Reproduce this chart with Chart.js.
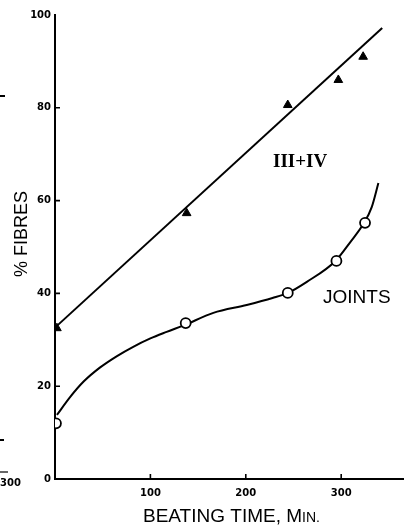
<!DOCTYPE html>
<html>
<head>
<meta charset="utf-8">
<script src="https://cdn.jsdelivr.net/npm/chart.js@4/dist/chart.umd.min.js"></script>
<style>
  html, body { margin: 0; padding: 0; background: #fff; }
  #wrap { width: 410px; height: 526px; position: relative; }
</style>
</head>
<body>
<div id="wrap"><canvas id="c" width="410" height="526"></canvas></div>
<script>
// Tick positions drawn as short inward marks
const xTicks = [100, 200, 300];
const yTicks = [20, 40, 60, 80];

// III + IV fibres: measured points and the fitted straight line
const fibresX = [2, 138, 244, 297, 323];
const fibresY = [32.5, 57.3, 80.6, 86, 91];
const fibresLineX = [2, 343];
const fibresLineY = [33, 97.2];

// Joints: measured points and the smooth fitted curve
const jointsX = [1, 137, 244, 295, 325];
const jointsY = [12, 33.6, 40.1, 47, 55.2];
const jointsCurveX = [2, 16, 30, 47, 65, 82, 100, 117, 135, 166, 201, 228, 244, 264, 294, 309, 324, 332, 339];
const jointsCurveY = [13.8, 17.7, 21.0, 24.0, 26.5, 28.5, 30.3, 31.7, 33.1, 35.8, 37.5, 39, 40.1, 42.5, 47, 50.9, 55.2, 58.6, 63.8];

const pts = (xs, ys) => xs.map((x, i) => ({ x: x, y: ys[i] }));

const tickFont = { family: 'DejaVu Sans', size: 10, weight: 'bold' };

// Inward tick marks, titles and curve labels
const decorations = {
  id: 'decorations',
  afterDraw(chart) {
    const ctx = chart.ctx;
    const xs = chart.scales.x, ys = chart.scales.y;
    const x0 = xs.getPixelForValue(0), y0 = ys.getPixelForValue(0);
    ctx.save();
    ctx.strokeStyle = '#000';
    ctx.fillStyle = '#000';
    ctx.lineWidth = 1.6;
    ctx.beginPath();
    yTicks.forEach(v => {
      const p = ys.getPixelForValue(v);
      ctx.moveTo(x0, p); ctx.lineTo(x0 + 5, p);
    });
    xTicks.forEach(v => {
      const p = xs.getPixelForValue(v);
      ctx.moveTo(p, y0); ctx.lineTo(p, y0 - 5);
    });
    ctx.stroke();

    // x axis title with small-capital "Min."
    ctx.textBaseline = 'alphabetic';
    ctx.textAlign = 'left';
    let tx = 143;
    const by = 522;
    ctx.font = '19px "Liberation Sans"';
    ctx.fillText('BEATING TIME, M', tx, by);
    tx += ctx.measureText('BEATING TIME, M').width;
    ctx.font = '14px "Liberation Sans"';
    ctx.fillText('IN.', tx, by);

    // y axis title
    ctx.save();
    ctx.translate(27, 234);
    ctx.rotate(-Math.PI / 2);
    ctx.textAlign = 'center';
    ctx.font = '18px "Liberation Sans"';
    ctx.fillText('% FIBRES', 0, 0);
    ctx.restore();

    // curve labels
    ctx.font = 'bold 19px "Liberation Serif"';
    ctx.fillText('III+IV', 273, 167);
    ctx.font = '19px "Liberation Sans"';
    ctx.fillText('JOINTS', 323, 303);

    // marks in the left margin
    ctx.font = 'bold 10px "DejaVu Sans"';
    ctx.fillText('300', 0, 486);
    ctx.lineWidth = 1.2;
    ctx.beginPath();
    ctx.moveTo(0, 472); ctx.lineTo(8, 472);
    ctx.stroke();
    ctx.fillRect(0, 95, 5, 2);
    ctx.fillRect(0, 439, 4, 2);
    ctx.restore();
  }
};

new Chart(document.getElementById('c'), {
  type: 'scatter',
  data: {
    datasets: [
      {
        data: pts(fibresLineX, fibresLineY),
        showLine: true, borderColor: '#000', borderWidth: 2,
        pointRadius: 0, order: 3
      },
      {
        data: pts(fibresX, fibresY),
        pointStyle: 'triangle', pointRadius: 5,
        backgroundColor: '#000', borderColor: '#000', borderWidth: 1, order: 0
      },
      {
        data: pts(jointsCurveX, jointsCurveY),
        showLine: true, borderColor: '#000', borderWidth: 2,
        pointRadius: 0, cubicInterpolationMode: 'monotone', order: 2
      },
      {
        data: pts(jointsX, jointsY),
        pointStyle: 'circle', pointRadius: 5,
        backgroundColor: '#fff', borderColor: '#000', borderWidth: 1.8, order: 1
      }
    ]
  },
  options: {
    responsive: false,
    animation: false,
    events: [],
    layout: { padding: { top: 15, right: 2, left: 0, bottom: 0 } },
    plugins: { legend: { display: false }, tooltip: { enabled: false } },
    scales: {
      x: {
        type: 'linear', min: 0, max: 365,
        afterFit(s) { s.height = 47; s.paddingRight = 0; s.paddingLeft = 0; },
        afterBuildTicks(s) { s.ticks = xTicks.map(v => ({ value: v })); },
        grid: { display: false, drawTicks: false, tickLength: 0 },
        border: { display: true, color: '#000', width: 2 },
        ticks: { color: '#000', font: tickFont, padding: 8, maxRotation: 0 }
      },
      y: {
        type: 'linear', min: 0, max: 100,
        afterFit(s) { s.width = 55; },
        grid: { display: false, drawTicks: false, tickLength: 0 },
        border: { display: true, color: '#000', width: 2 },
        ticks: { stepSize: 20, color: '#000', font: tickFont, padding: 4 }
      }
    }
  },
  plugins: [decorations]
});
</script>
</body>
</html>
